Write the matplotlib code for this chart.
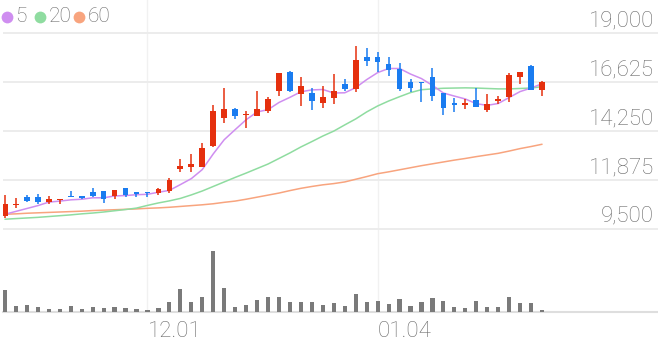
import matplotlib
matplotlib.use('Agg')
import matplotlib.pyplot as plt
import numpy as np

# ---------------- data ----------------
opens = [10130, 10660, 11030, 11060, 10790, 10900, 11110, 11110, 11310, 11350,
         11110, 11470, 11310, 11310, 11230, 11340, 12390, 12490, 12490, 13540,
         14900, 15310, 15020, 14980, 15230, 16200, 17130, 16050, 16090, 15600,
         15840, 16520, 16280, 17860, 17830, 17490, 17250, 16620, 16650, 16860,
         16090, 15570, 15500, 15760, 15270, 15710, 15900, 16890, 17430, 16250]
highs = [11150, 11000, 11150, 11190, 11100, 10950, 11350, 11110, 11470, 11350,
         11390, 11470, 11310, 11310, 11500, 11960, 12880, 13120, 13660, 15520,
         16360, 15390, 15230, 16200, 15890, 17060, 17170, 16860, 16330, 16440,
         17020, 16770, 18400, 18270, 18110, 17830, 17570, 16780, 16650, 17300,
         16090, 15840, 15790, 16330, 16050, 15970, 17060, 17130, 17460, 16680]
lows = [10010, 10510, 10790, 10710, 10710, 10690, 11030, 10950, 11060, 10740,
        10940, 11060, 11060, 11030, 11150, 11260, 12250, 12280, 12490, 13490,
        14660, 14820, 14420, 14980, 15140, 15970, 16160, 15470, 15270, 15360,
        15550, 16210, 16160, 17410, 17130, 16930, 16210, 16160, 15680, 15730,
        15030, 15190, 15310, 15430, 15190, 15570, 15640, 16540, 16250, 15950]
closes = [10710, 10710, 10850, 10790, 10940, 10950, 11030, 11010, 11100, 10950,
          11390, 11150, 11190, 11230, 11420, 11870, 12550, 12650, 13410, 15230,
          15320, 14980, 15070, 15310, 15790, 17060, 16210, 16450, 15730, 15890,
          16210, 16280, 17700, 17650, 17620, 17220, 16280, 16330, 16570, 15970,
          15360, 15520, 15630, 15430, 15570, 15790, 16970, 17100, 16250, 16650]
volumes = [67, 19, 22, 16, 10, 10, 20, 10, 17, 13,
           16, 12, 10, 7, 14, 30, 70, 31, 46, 184,
           73, 16, 23, 37, 46, 46, 30, 30, 31, 22,
           28, 19, 56, 31, 34, 25, 41, 19, 30, 44,
           33, 17, 12, 35, 16, 15, 46, 28, 27, 8]
ma5 = [10210, 10350, 10490, 10630, 10800, 10850, 10910, 10940, 11010, 11010,
       11100, 11120, 11160, 11180, 11280, 11370, 11650, 11940, 12380, 13140,
       13830, 14320, 14800, 15180, 15290, 15640, 15890, 16160, 16250, 16270,
       16100, 16110, 16360, 16750, 17090, 17290, 17290, 17020, 16800, 16470,
       16100, 15950, 15810, 15580, 15500, 15590, 15880, 16170, 16340, 16550]
ma20 = [9970, 10000, 10030, 10060, 10100, 10140, 10180, 10230, 10270, 10320,
        10380, 10440, 10510, 10640, 10760, 10860, 10980, 11150, 11340, 11560,
        11780, 12000, 12210, 12430, 12650, 12920, 13190, 13480, 13740, 14010,
        14250, 14550, 14840, 15180, 15470, 15710, 15920, 16120, 16260, 16300,
        16330, 16340, 16350, 16340, 16320, 16300, 16300, 16320, 16340, 16410]
ma60 = [10210, 10230, 10260, 10280, 10300, 10320, 10340, 10360, 10390, 10410,
        10430, 10450, 10470, 10500, 10520, 10550, 10590, 10630, 10670, 10720,
        10790, 10850, 10940, 11040, 11140, 11240, 11360, 11470, 11560, 11640,
        11700, 11780, 11910, 12040, 12180, 12270, 12370, 12470, 12570, 12660,
        12750, 12840, 12920, 13010, 13090, 13170, 13280, 13400, 13500, 13610]
ma_labels = ['5', '20', '60']
date_tick_idx = [13, 34]
date_tick_labels = ['12.01', '01.04']
price_ticks = [9500, 11875, 14250, 16625, 19000]

# ---------------- style ----------------
RED = '#e5300e'
BLUE = '#1a7cf0'
MA_COLORS = ['#cf8ef0', '#8fdca0', '#f8a47e']
TXT = '#6b6b6b'
GRID = '#ececec'
plt.rcParams['font.family'] = ['Roboto', 'DejaVu Sans']

W, H = 658, 342
fig = plt.figure(figsize=(W / 100, H / 100), dpi=100)


def fr(x0, y0, x1, y1):
    return [x0 / W, 1 - y1 / H, (x1 - x0) / W, (y1 - y0) / H]


ax = fig.add_axes(fr(3, 0, 658, 240))
axv = fig.add_axes(fr(3, 240, 658, 312.3), sharex=ax)

x = np.arange(len(closes))
o = np.array(opens, dtype=float)
c = np.array(closes, dtype=float)
hi = np.array(highs, dtype=float)
lo = np.array(lows, dtype=float)
colors = np.where(c >= o, RED, BLUE)

# moving averages
for vals, col in zip([ma60, ma20, ma5], MA_COLORS[::-1]):
    ax.plot(x, vals, color=col, lw=1.1, zorder=2, solid_capstyle='round')

# candles
ax.vlines(x, lo, hi, colors=colors, lw=1.1, zorder=3)
body_min = 70
bottoms = np.minimum(o, c)
heights = np.maximum(np.abs(c - o), body_min)
ax.bar(x, heights, bottom=bottoms, width=0.52, color=colors, linewidth=0, zorder=4)

ax.set_xlim(-0.18, 59.58)
ax.set_ylim(8960, 20617)
ax.set_yticks(price_ticks)
ax.set_xticks(date_tick_idx)
ax.grid(axis='y', color=GRID, lw=1.4)
ax.grid(axis='x', color='#f1f1f1', lw=1.0)
ax.set_axisbelow(True)
ax.tick_params(left=False, bottom=False, labelleft=False, labelbottom=False)
for s in ax.spines.values():
    s.set_visible(False)

for v in price_ticks:
    ax.annotate(f'{v:,}', xy=(1, v), xycoords=ax.get_yaxis_transform(),
                xytext=(-3, 5), textcoords='offset points', ha='right',
                va='baseline', fontsize=16, color=TXT, fontweight='light')

# volume
axv.bar(x, volumes, width=0.38, color='#7a7a7a', linewidth=0, zorder=3)
axv.set_ylim(0, 218)
axv.set_xticks(date_tick_idx)
axv.set_xticklabels(date_tick_labels)
axv.grid(axis='x', color='#f1f1f1', lw=1.0)
axv.set_axisbelow(True)
axv.tick_params(axis='x', length=0, pad=6.0, labelsize=16, labelcolor=TXT)
axv.tick_params(axis='y', left=False, labelleft=False)
for k, s in axv.spines.items():
    s.set_visible(k == 'bottom')
axv.spines['bottom'].set_color('#dedede')
axv.spines['bottom'].set_linewidth(1.5)
for t in axv.get_xticklabels():
    t.set_fontweight('light')
    t.set_horizontalalignment('left')

# legend
ov = fig.add_axes([0, 0, 1, 1])
ov.set_xlim(0, W)
ov.set_ylim(H, 0)
ov.axis('off')
ov.patch.set_alpha(0)
leg_dot_x = [7, 40, 79]
leg_txt_x = [15, 49, 88]
for lab, col, dx, tx in zip(ma_labels, MA_COLORS, leg_dot_x, leg_txt_x):
    ov.scatter([dx], [16.5], s=72, color=col, linewidths=0)
    ov.text(tx, 16.5, lab, ha='left', va='center', fontsize=15, color=TXT,
            fontweight='light')

fig.savefig('out.png', dpi=100)
